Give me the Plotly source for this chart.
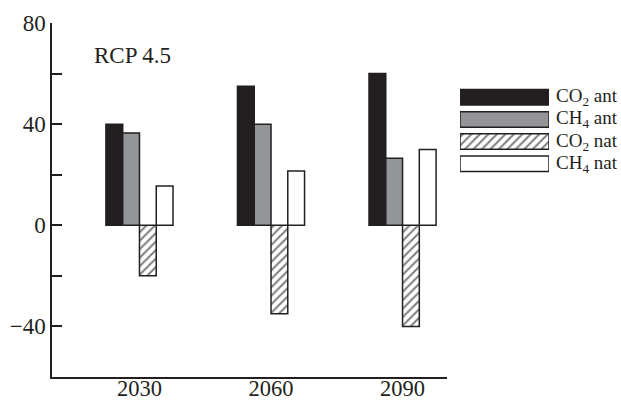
import plotly.graph_objects as go

# Emission contributions, RCP 4.5 scenario
years = ["2030", "2060", "2090"]
co2_ant = [40, 55, 60]
ch4_ant = [36.5, 40, 26.5]
co2_nat = [-20, -35, -40]
ch4_nat = [15.5, 21.5, 30]

series_names = ["CO<sub>2</sub> ant", "CH<sub>4</sub> ant", "CO<sub>2</sub> nat", "CH<sub>4</sub> nat"]
series_values = [co2_ant, ch4_ant, co2_nat, ch4_nat]

y_tickvals = [-40, 0, 40, 80]
y_ticktext = ["\u221240", "0", "40", "80"]
y_minor_tickvals = [-20, 20, 60]

INK = "#231f20"
FONT = "Liberation Serif"

styles = [
    dict(color=INK),
    dict(color="#939598"),
    dict(color="white", pattern=dict(shape="/", fgcolor="#000000", bgcolor="white",
                                     size=6, solidity=0.35, fillmode="overlay")),
    dict(color="white"),
]

W, H = 621, 400
L, R, T, B = 52, 10, 23, 23
pw, ph = W - L - R, H - T - B


def px_x(x):
    return (x - L) / pw


def px_y(y):
    return (H - B - y) / ph


fig = go.Figure()

for name, vals, st in zip(series_names, series_values, styles):
    fig.add_trace(go.Bar(
        x=years, y=vals, name=name,
        marker=dict(**st, line=dict(color=INK, width=1.5)),
        showlegend=False, xaxis="x", yaxis="y",
    ))

# Legend key drawn as a small horizontal bar panel
for i, (name, st) in enumerate(zip(series_names, styles)):
    fig.add_trace(go.Bar(
        x=[1], y=[i], base=0, orientation="h", width=0.7,
        marker=dict(**st, line=dict(color=INK, width=1.5)),
        showlegend=False, xaxis="x2", yaxis="y2", hoverinfo="skip",
    ))
    fig.add_annotation(
        x=1, y=i, xref="x2", yref="y2", text=name, showarrow=False,
        xanchor="left", yanchor="middle", xshift=5,
        font=dict(family=FONT, size=19, color=INK),
    )

fig.add_annotation(
    x=px_x(92), y=px_y(56), xref="paper", yref="paper", text="RCP 4.5",
    showarrow=False, xanchor="left", yanchor="middle",
    font=dict(family=FONT, size=23, color=INK),
)

fig.update_layout(
    width=W, height=H,
    margin=dict(l=L, r=R, t=T, b=B, autoexpand=False),
    paper_bgcolor="white", plot_bgcolor="white",
    barmode="group", bargap=0.49, bargroupgap=0,
    font=dict(family=FONT, size=22, color=INK),
    xaxis=dict(
        domain=[0, px_x(447)], range=[-0.665, 2.338], automargin=False,
        showline=True, linecolor=INK, linewidth=1.5,
        ticks="", showgrid=False, zeroline=False, ticklabelstandoff=-10,
        tickfont=dict(family=FONT, size=22.5, color=INK),
    ),
    yaxis=dict(
        range=[-60, 80], automargin=False,
        showline=True, linecolor=INK, linewidth=1.5,
        ticks="inside", ticklen=10, tickwidth=2, tickcolor=INK,
        tickvals=y_tickvals, ticktext=y_ticktext,
        minor=dict(tickvals=y_minor_tickvals, ticks="inside", ticklen=10,
                   tickwidth=2, tickcolor=INK, showgrid=False),
        showgrid=False, zeroline=False,
        tickfont=dict(family=FONT, size=23, color=INK),
    ),
    xaxis2=dict(domain=[px_x(460), px_x(549)], range=[0, 1], anchor="y2",
                visible=False, fixedrange=True),
    yaxis2=dict(domain=[px_y(174.8), px_y(86.2)], range=[3.5, -0.5], anchor="x2",
                visible=False, fixedrange=True),
)

fig.write_html("out.html")
